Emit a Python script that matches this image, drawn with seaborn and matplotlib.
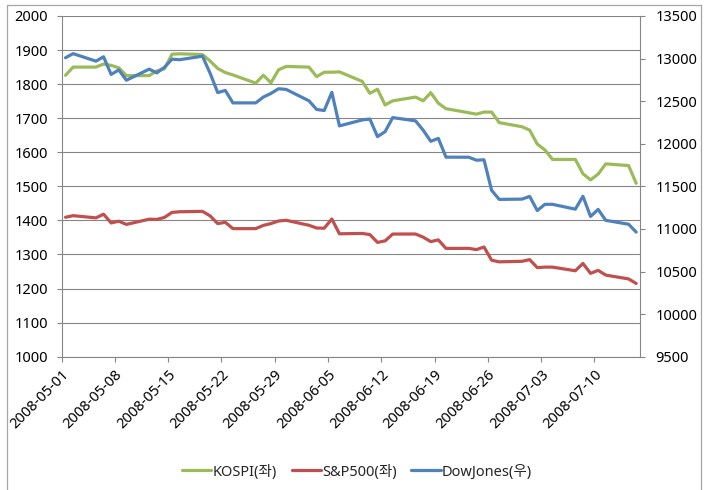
import matplotlib
matplotlib.use("Agg")
import matplotlib.pyplot as plt
from matplotlib.lines import Line2D
import pandas as pd
import seaborn as sns

# Daily closes, May 1 - Jul 15 2008 (market holidays carry the prior close)
trade_dates = [
    "2008-05-01", "2008-05-02", "2008-05-05", "2008-05-06", "2008-05-07", "2008-05-08",
    "2008-05-09", "2008-05-12", "2008-05-13", "2008-05-14", "2008-05-15", "2008-05-16",
    "2008-05-19", "2008-05-20", "2008-05-21", "2008-05-22", "2008-05-23", "2008-05-26",
    "2008-05-27", "2008-05-28", "2008-05-29", "2008-05-30",
    "2008-06-02", "2008-06-03", "2008-06-04", "2008-06-05", "2008-06-06", "2008-06-09",
    "2008-06-10", "2008-06-11", "2008-06-12", "2008-06-13", "2008-06-16", "2008-06-17",
    "2008-06-18", "2008-06-19", "2008-06-20", "2008-06-23", "2008-06-24", "2008-06-25",
    "2008-06-26", "2008-06-27", "2008-06-30",
    "2008-07-01", "2008-07-02", "2008-07-03", "2008-07-04", "2008-07-07", "2008-07-08",
    "2008-07-09", "2008-07-10", "2008-07-11", "2008-07-14", "2008-07-15",
]

kospi = [
    1826, 1850, 1850, 1859, 1855, 1848, 1825, 1825, 1839, 1845, 1888, 1889,
    1887, 1868, 1846, 1834, 1827, 1803, 1826, 1804, 1842, 1852,
    1850, 1822, 1835, 1835, 1836, 1808, 1773, 1785, 1739, 1751, 1762, 1751,
    1775, 1744, 1728, 1716, 1712, 1718, 1718, 1687, 1675,
    1665, 1624, 1607, 1579, 1579, 1537, 1519, 1536, 1566, 1561, 1509,
]

sp500 = [
    1409.3, 1413.9, 1407.5, 1418.3, 1392.6, 1397.7, 1388.3, 1403.6, 1403.0, 1408.7,
    1423.6, 1425.4, 1426.6, 1413.4, 1390.7, 1394.4, 1375.9, 1375.9, 1385.4, 1390.8,
    1398.3, 1400.4,
    1385.7, 1377.7, 1377.2, 1404.1, 1360.7, 1361.8, 1358.4, 1335.5, 1339.9, 1360.0,
    1360.1, 1350.9, 1337.8, 1342.8, 1317.9, 1318.0, 1314.3, 1322.0, 1283.2, 1278.4,
    1280.0,
    1284.9, 1261.5, 1262.9, 1262.9, 1252.3, 1273.7, 1244.7, 1253.4, 1239.5, 1228.3,
    1214.9,
]

dowjones = [
    13010, 13058, 12970, 13021, 12814, 12867, 12746, 12876, 12832, 12898, 12993,
    12987, 13028, 12829, 12601, 12626, 12480, 12480, 12548, 12591, 12646, 12638,
    12504, 12403, 12390, 12604, 12210, 12280, 12290, 12084, 12142, 12307, 12269,
    12160, 12029, 12063, 11843, 11842, 11807, 11812, 11453, 11347, 11350,
    11382, 11216, 11289, 11289, 11232, 11384, 11147, 11229, 11101, 11055, 10963,
]

tick_dates = [
    "2008-05-01", "2008-05-08", "2008-05-15", "2008-05-22", "2008-05-29", "2008-06-05",
    "2008-06-12", "2008-06-19", "2008-06-26", "2008-07-03", "2008-07-10",
]
left_ticks = list(range(1000, 2001, 100))
right_ticks = list(range(9500, 13501, 500))
series_labels = ["KOSPI(좌)", "S&P500(좌)", "DowJones(우)"]
series_colors = ["#9BBB59", "#C0504D", "#4F81BD"]

sns.set_theme(style="white")
plt.rcParams["font.family"] = ["Noto Sans", "Noto Sans CJK KR", "DejaVu Sans"]

axis_gray = "#868686"
line_w = 2.3
fs = 10.5

# each trading day sits in the middle of its day slot
dates = pd.to_datetime(trade_dates) + pd.Timedelta(hours=12)
n = len(dates)
left_df = pd.DataFrame({
    "date": list(dates) * 2,
    "value": kospi + sp500,
    "series": [series_labels[0]] * n + [series_labels[1]] * n,
})
right_df = pd.DataFrame({"date": dates, "value": dowjones})

fig = plt.figure(figsize=(7.1, 4.9), dpi=100)
ax = fig.add_axes([61.7 / 710, 1 - 356.7 / 490, (640 - 61.7) / 710, (356.7 - 16) / 490])

sns.lineplot(data=left_df, x="date", y="value", hue="series",
             hue_order=series_labels[:2], palette=series_colors[:2],
             linewidth=line_w, ax=ax, legend=False)
ax2 = ax.twinx()
sns.lineplot(data=right_df, x="date", y="value", color=series_colors[2],
             linewidth=line_w, ax=ax2, legend=False)

ax.set_xlim(pd.Timestamp("2008-05-01"), pd.Timestamp("2008-07-16"))
ax.set_ylim(left_ticks[0], left_ticks[-1])
ax2.set_ylim(right_ticks[0], right_ticks[-1])

ax.set_xticks(pd.to_datetime(tick_dates))
ax.set_xticklabels(tick_dates, rotation=45, ha="right", va="top",
                   rotation_mode="anchor")
ax.set_yticks(left_ticks)
ax.set_yticklabels([str(v) for v in left_ticks])
ax2.set_yticks(right_ticks)
ax2.set_yticklabels([str(v) for v in right_ticks])

ax.set_xlabel("")
ax.set_ylabel("")
ax2.set_ylabel("")

ax.yaxis.grid(True, color=axis_gray, linewidth=0.8)
ax.xaxis.grid(False)
ax2.grid(False)

for a in (ax, ax2):
    for side in ("top", "left", "right", "bottom"):
        a.spines[side].set_visible(False)
ax.spines["left"].set_visible(True)
ax.spines["bottom"].set_visible(True)
ax2.spines["right"].set_visible(True)
for sp in (ax.spines["left"], ax.spines["bottom"], ax2.spines["right"]):
    sp.set_color(axis_gray)
    sp.set_linewidth(0.8)

ax.tick_params(axis="y", left=True, direction="out", length=3.6, width=0.8,
               color=axis_gray, pad=6.5, labelsize=fs, labelcolor="black")
ax.tick_params(axis="x", bottom=True, direction="out", length=3.6, width=0.8,
               color=axis_gray, pad=4, labelsize=fs, labelcolor="black")
ax2.tick_params(axis="y", right=True, direction="out", length=3.6, width=0.8,
                color=axis_gray, pad=7.5, labelsize=fs, labelcolor="black")

# chart frame
frame_kw = dict(color="#A6A6A6", linewidth=0.9, transform=fig.transFigure)
x0, x1, ytop = 7 / 710, 701 / 710, 1 - 5 / 490
fig.add_artist(Line2D([x0, x1], [ytop, ytop], **frame_kw))
fig.add_artist(Line2D([x0, x0], [0, ytop], **frame_kw))
fig.add_artist(Line2D([x1, x1], [0, ytop], **frame_kw))

handles = [Line2D([0], [0], color=c, linewidth=line_w) for c in series_colors]
fig.legend(handles, series_labels, loc="center", bbox_to_anchor=(0.503, 1 - 472 / 490),
           ncol=3, frameon=False, fontsize=fs, handlelength=2.0,
           handletextpad=0.1, columnspacing=1.0)

fig.savefig("out.png", dpi=100)
